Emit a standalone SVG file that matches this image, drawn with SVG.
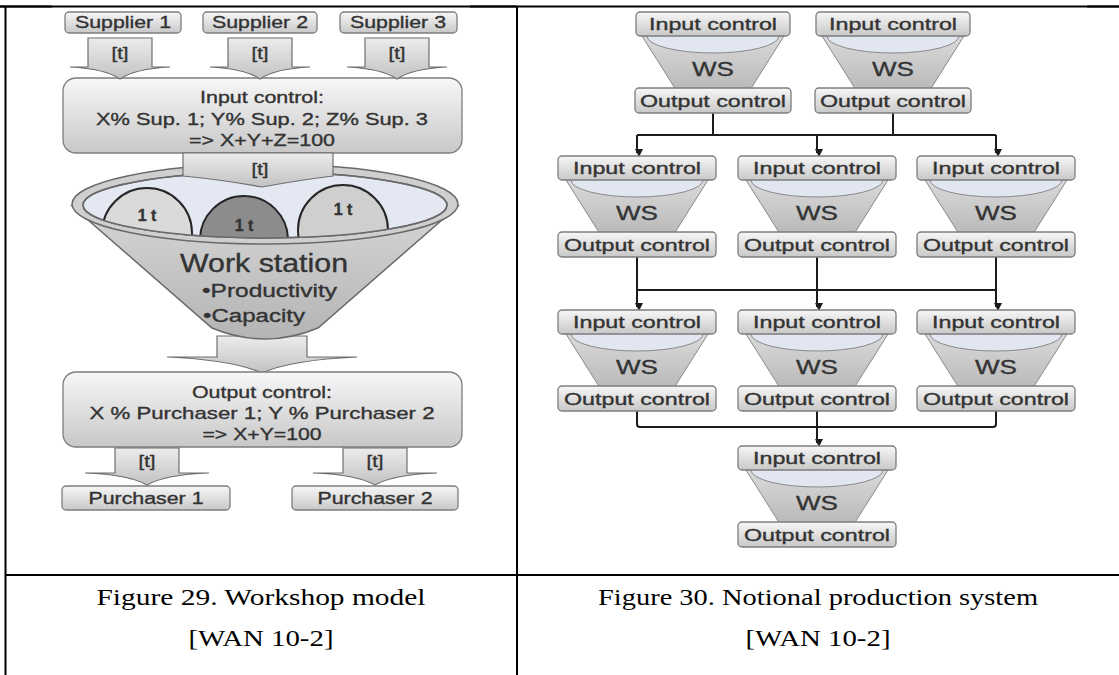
<svg xmlns="http://www.w3.org/2000/svg" width="1119" height="675" viewBox="0 0 1119 675">
<style>
  .tbl{stroke:#000;stroke-width:2;fill:none}
  .box{fill:url(#boxG);stroke:#7d7d7d;stroke-width:1.3}
  .arr{fill:url(#arrG);stroke:#6e6e6e;stroke-width:1.2}
  .fun{fill:url(#funG);stroke:#8a8a8a;stroke-width:1}
  .rim{fill:#e1e6f1;stroke:#8a8a8a;stroke-width:1}
  .t{font-family:"Liberation Sans",Arial,sans-serif;fill:#333;stroke:#333;stroke-width:0.35;text-anchor:middle}
  .lbl{font-family:"Liberation Sans",Arial,sans-serif;font-size:17px;fill:#333;stroke:#333;stroke-width:0.35;text-anchor:middle}
  .ws{font-family:"Liberation Sans",Arial,sans-serif;font-size:20px;fill:#333;stroke:#333;stroke-width:0.35;text-anchor:middle}
  .bul{font-family:"Liberation Sans",Arial,sans-serif;font-size:18px;fill:#333;stroke:#333;stroke-width:0.35}
  .cap{font-family:"Liberation Serif","Times New Roman",serif;font-size:24px;fill:#000;text-anchor:middle}
  .con{stroke:#1c1c1c;stroke-width:2;fill:none}
  .ball{stroke:#262626;stroke-width:2}
</style>
<defs>
  <linearGradient id="boxG" x1="0" y1="0" x2="0" y2="1">
    <stop offset="0" stop-color="#f7f7f7"/><stop offset="1" stop-color="#c8c8c8"/>
  </linearGradient>
  <linearGradient id="arrG" x1="0" y1="0" x2="0" y2="1">
    <stop offset="0" stop-color="#ececec"/><stop offset="1" stop-color="#c2c2c2"/>
  </linearGradient>
  <linearGradient id="funG" x1="0" y1="0" x2="0" y2="1">
    <stop offset="0" stop-color="#dadada"/><stop offset="1" stop-color="#b9b9b9"/>
  </linearGradient>
  <linearGradient id="bigFunG" x1="0" y1="0" x2="0" y2="1">
    <stop offset="0" stop-color="#d6d6d6"/><stop offset="1" stop-color="#b4b4b4"/>
  </linearGradient>
  <clipPath id="rimClip"><ellipse cx="265" cy="205" rx="182" ry="33"/></clipPath>
  <path id="supArr" d="M-32,38 H32 V67 H50 C30,68 10,72 0,79 C-10,72 -30,68 -50,67 H-32 Z"/>
  <path id="purArr" d="M-32,448 H32 V473 H62 C35,474 12,478 0,485 C-12,478 -35,474 -62,473 H-32 Z"/>
  <marker id="ah" markerWidth="8" markerHeight="8" refX="4" refY="6" orient="auto-start-reverse" markerUnits="userSpaceOnUse" viewBox="0 0 8 8">
    <path d="M0,0 L8,0 L4,8 Z" fill="#1c1c1c" transform="rotate(-90 4 4)"/>
  </marker>
</defs>

<!-- table lines -->
<g id="table">
  <line class="tbl" x1="0" y1="6.5" x2="1119" y2="6.5" stroke-width="1.5"/>
  <line class="tbl" x1="0" y1="6.5" x2="52" y2="6.5" stroke-width="3"/>
  <line class="tbl" x1="470" y1="6.5" x2="517" y2="6.5" stroke-width="3"/>
  <line class="tbl" x1="1087" y1="6.5" x2="1119" y2="6.5" stroke-width="3"/>
  <line class="tbl" x1="5.5" y1="6" x2="5.5" y2="675"/>
  <line class="tbl" x1="517" y1="6" x2="517" y2="675"/>
  <line class="tbl" x1="5" y1="575" x2="1119" y2="575"/>
</g>

<!-- LEFT: workshop model -->
<g id="supplier1"><rect class="box" x="65" y="12" width="116" height="21" rx="4"/><text class="t" x="123" y="28" font-size="17" textLength="96" lengthAdjust="spacingAndGlyphs">Supplier 1</text></g>
<g id="supplier2"><rect class="box" x="203" y="12" width="114" height="21" rx="4"/><text class="t" x="260" y="28" font-size="17" textLength="96" lengthAdjust="spacingAndGlyphs">Supplier 2</text></g>
<g id="supplier3"><rect class="box" x="340" y="12" width="117" height="21" rx="4"/><text class="t" x="398" y="28" font-size="17" textLength="96" lengthAdjust="spacingAndGlyphs">Supplier 3</text></g>

<g id="input-control-left">
  <rect class="box" x="63" y="78" width="399" height="75" rx="13"/>
  <text class="t" x="262" y="103" font-size="17" textLength="124" lengthAdjust="spacingAndGlyphs">Input control:</text>
  <text class="t" x="262" y="125" font-size="17" textLength="332" lengthAdjust="spacingAndGlyphs">X% Sup. 1; Y% Sup. 2; Z% Sup. 3</text>
  <text class="t" x="262" y="146" font-size="17" textLength="146" lengthAdjust="spacingAndGlyphs">=&gt; X+Y+Z=100</text>
</g>

<g id="supplier-arrows">
  <use href="#supArr" class="arr" transform="translate(120,0)"/>
  <text class="t" x="120" y="59" font-size="16" textLength="17" lengthAdjust="spacingAndGlyphs">[t]</text>
  <use href="#supArr" class="arr" transform="translate(260,0)"/>
  <text class="t" x="260" y="59" font-size="16" textLength="17" lengthAdjust="spacingAndGlyphs">[t]</text>
  <use href="#supArr" class="arr" transform="translate(397,0)"/>
  <text class="t" x="397" y="59" font-size="16" textLength="17" lengthAdjust="spacingAndGlyphs">[t]</text>
</g>

<g id="work-station">
  <path class="arr" d="M217,336 H307 V357 H357 C312,359 282,364 262,373 C242,364 212,359 167,357 H217 Z"/>
  <path d="M72,206 L212,328 Q265,350 318,328 L458,206 Z" fill="url(#bigFunG)" stroke="#6a6a6a" stroke-width="1.5"/>
  <ellipse cx="265" cy="204" rx="193" ry="40" fill="#cfcfcf" stroke="#6a6a6a" stroke-width="1.5"/>
  <ellipse cx="265" cy="205" rx="182" ry="33" fill="#e3e8f2" stroke="#6a6a6a" stroke-width="1.5"/>
  <g clip-path="url(#rimClip)">
    <circle class="ball" cx="147" cy="233" r="45" fill="#dadada"/>
    <circle class="ball" cx="244" cy="240" r="44" fill="#8c8c8c"/>
    <circle class="ball" cx="343" cy="230" r="45" fill="#cfcfcf"/>
  </g>
  <ellipse cx="265" cy="205" rx="182" ry="33" fill="none" stroke="#6a6a6a" stroke-width="1.5"/>
  <text class="t" x="147" y="221" font-size="16" font-weight="bold" fill="#222">1 t</text>
  <text class="t" x="244" y="231" font-size="16" font-weight="bold" fill="#222">1 t</text>
  <text class="t" x="343" y="215" font-size="16" font-weight="bold" fill="#222">1 t</text>
  <text class="t" x="264" y="272" font-size="26" textLength="168" lengthAdjust="spacingAndGlyphs">Work station</text>
  <text class="bul" x="202" y="297" textLength="135" lengthAdjust="spacingAndGlyphs">•Productivity</text>
  <text class="bul" x="203" y="322" textLength="102" lengthAdjust="spacingAndGlyphs">•Capacity</text>
  <path class="arr" d="M183,153 H333 V176 Q300,180 262,187 Q224,180 183,176 Z"/>
  <text class="t" x="260" y="175" font-size="16" textLength="17" lengthAdjust="spacingAndGlyphs">[t]</text>
</g>

<g id="output-control-left">
  <rect class="box" x="63" y="372" width="399" height="75" rx="13"/>
  <text class="t" x="262" y="398" font-size="17" textLength="140" lengthAdjust="spacingAndGlyphs">Output control:</text>
  <text class="t" x="262" y="419" font-size="17" textLength="345" lengthAdjust="spacingAndGlyphs">X % Purchaser 1; Y % Purchaser 2</text>
  <text class="t" x="262" y="440" font-size="17" textLength="119" lengthAdjust="spacingAndGlyphs">=&gt; X+Y=100</text>
</g>

<g id="purchaser-arrows">
  <use href="#purArr" class="arr" transform="translate(147,0)"/>
  <text class="t" x="147" y="467" font-size="16" textLength="17" lengthAdjust="spacingAndGlyphs">[t]</text>
  <use href="#purArr" class="arr" transform="translate(375,0)"/>
  <text class="t" x="375" y="467" font-size="16" textLength="17" lengthAdjust="spacingAndGlyphs">[t]</text>
</g>
<g id="purchaser1"><rect class="box" x="62" y="486" width="168" height="24" rx="4"/><text class="t" x="146" y="504" font-size="16" textLength="115" lengthAdjust="spacingAndGlyphs">Purchaser 1</text></g>
<g id="purchaser2"><rect class="box" x="292" y="486" width="166" height="24" rx="4"/><text class="t" x="375" y="504" font-size="16" textLength="115" lengthAdjust="spacingAndGlyphs">Purchaser 2</text></g>

<!-- RIGHT: notional production system -->
<g id="connectors">
  <path class="con" d="M713,113 V135 M893,113 V135 M637,135 H996"/>
  <path class="con" d="M637,135 V153" marker-end="url(#ah)"/>
  <path class="con" d="M817,135 V153" marker-end="url(#ah)"/>
  <path class="con" d="M996,135 V153" marker-end="url(#ah)"/>
  <path class="con" d="M637,290 H996"/>
  <path class="con" d="M637,257 V307" marker-end="url(#ah)"/>
  <path class="con" d="M817,257 V307" marker-end="url(#ah)"/>
  <path class="con" d="M996,257 V307" marker-end="url(#ah)"/>
  <path class="con" d="M637,411 V424 Q637,427 640,427 H993 Q996,427 996,424 V411"/>
  <path class="con" d="M817,411 V443" marker-end="url(#ah)"/>
</g>

<g id="ws-1-1" transform="translate(713,12)">
  <path class="fun" d="M-71,24 L-37,78 L37,78 L71,24 Z"/><ellipse class="rim" cx="0" cy="24" rx="66" ry="17"/>
  <rect class="box" x="-77" y="0" width="154" height="24" rx="4"/><text class="lbl" x="0" y="18" textLength="128" lengthAdjust="spacingAndGlyphs">Input control</text>
  <text class="ws" x="0" y="64" textLength="42" lengthAdjust="spacingAndGlyphs">WS</text>
  <rect class="box" x="-78" y="76" width="156" height="25" rx="4"/><text class="lbl" x="0" y="94.5" textLength="146" lengthAdjust="spacingAndGlyphs">Output control</text>
</g>
<g id="ws-1-2" transform="translate(893,12)">
  <path class="fun" d="M-71,24 L-37,78 L37,78 L71,24 Z"/><ellipse class="rim" cx="0" cy="24" rx="66" ry="17"/>
  <rect class="box" x="-77" y="0" width="154" height="24" rx="4"/><text class="lbl" x="0" y="18" textLength="128" lengthAdjust="spacingAndGlyphs">Input control</text>
  <text class="ws" x="0" y="64" textLength="42" lengthAdjust="spacingAndGlyphs">WS</text>
  <rect class="box" x="-78" y="76" width="156" height="25" rx="4"/><text class="lbl" x="0" y="94.5" textLength="146" lengthAdjust="spacingAndGlyphs">Output control</text>
</g>
<g id="ws-2-1" transform="translate(637,156)">
  <path class="fun" d="M-71,24 L-37,78 L37,78 L71,24 Z"/><ellipse class="rim" cx="0" cy="24" rx="66" ry="17"/>
  <rect class="box" x="-79" y="0" width="158" height="24" rx="4"/><text class="lbl" x="0" y="18" textLength="128" lengthAdjust="spacingAndGlyphs">Input control</text>
  <text class="ws" x="0" y="64" textLength="42" lengthAdjust="spacingAndGlyphs">WS</text>
  <rect class="box" x="-79" y="76" width="158" height="25" rx="4"/><text class="lbl" x="0" y="94.5" textLength="146" lengthAdjust="spacingAndGlyphs">Output control</text>
</g>
<g id="ws-2-2" transform="translate(817,156)">
  <path class="fun" d="M-71,24 L-37,78 L37,78 L71,24 Z"/><ellipse class="rim" cx="0" cy="24" rx="66" ry="17"/>
  <rect class="box" x="-79" y="0" width="158" height="24" rx="4"/><text class="lbl" x="0" y="18" textLength="128" lengthAdjust="spacingAndGlyphs">Input control</text>
  <text class="ws" x="0" y="64" textLength="42" lengthAdjust="spacingAndGlyphs">WS</text>
  <rect class="box" x="-79" y="76" width="158" height="25" rx="4"/><text class="lbl" x="0" y="94.5" textLength="146" lengthAdjust="spacingAndGlyphs">Output control</text>
</g>
<g id="ws-2-3" transform="translate(996,156)">
  <path class="fun" d="M-71,24 L-37,78 L37,78 L71,24 Z"/><ellipse class="rim" cx="0" cy="24" rx="66" ry="17"/>
  <rect class="box" x="-79" y="0" width="158" height="24" rx="4"/><text class="lbl" x="0" y="18" textLength="128" lengthAdjust="spacingAndGlyphs">Input control</text>
  <text class="ws" x="0" y="64" textLength="42" lengthAdjust="spacingAndGlyphs">WS</text>
  <rect class="box" x="-79" y="76" width="158" height="25" rx="4"/><text class="lbl" x="0" y="94.5" textLength="146" lengthAdjust="spacingAndGlyphs">Output control</text>
</g>
<g id="ws-3-1" transform="translate(637,310)">
  <path class="fun" d="M-71,24 L-37,78 L37,78 L71,24 Z"/><ellipse class="rim" cx="0" cy="24" rx="66" ry="17"/>
  <rect class="box" x="-79" y="0" width="158" height="24" rx="4"/><text class="lbl" x="0" y="18" textLength="128" lengthAdjust="spacingAndGlyphs">Input control</text>
  <text class="ws" x="0" y="64" textLength="42" lengthAdjust="spacingAndGlyphs">WS</text>
  <rect class="box" x="-79" y="76" width="158" height="25" rx="4"/><text class="lbl" x="0" y="94.5" textLength="146" lengthAdjust="spacingAndGlyphs">Output control</text>
</g>
<g id="ws-3-2" transform="translate(817,310)">
  <path class="fun" d="M-71,24 L-37,78 L37,78 L71,24 Z"/><ellipse class="rim" cx="0" cy="24" rx="66" ry="17"/>
  <rect class="box" x="-79" y="0" width="158" height="24" rx="4"/><text class="lbl" x="0" y="18" textLength="128" lengthAdjust="spacingAndGlyphs">Input control</text>
  <text class="ws" x="0" y="64" textLength="42" lengthAdjust="spacingAndGlyphs">WS</text>
  <rect class="box" x="-79" y="76" width="158" height="25" rx="4"/><text class="lbl" x="0" y="94.5" textLength="146" lengthAdjust="spacingAndGlyphs">Output control</text>
</g>
<g id="ws-3-3" transform="translate(996,310)">
  <path class="fun" d="M-71,24 L-37,78 L37,78 L71,24 Z"/><ellipse class="rim" cx="0" cy="24" rx="66" ry="17"/>
  <rect class="box" x="-79" y="0" width="158" height="24" rx="4"/><text class="lbl" x="0" y="18" textLength="128" lengthAdjust="spacingAndGlyphs">Input control</text>
  <text class="ws" x="0" y="64" textLength="42" lengthAdjust="spacingAndGlyphs">WS</text>
  <rect class="box" x="-79" y="76" width="158" height="25" rx="4"/><text class="lbl" x="0" y="94.5" textLength="146" lengthAdjust="spacingAndGlyphs">Output control</text>
</g>
<g id="ws-4-1" transform="translate(817,446)">
  <path class="fun" d="M-71,24 L-37,78 L37,78 L71,24 Z"/><ellipse class="rim" cx="0" cy="24" rx="66" ry="17"/>
  <rect class="box" x="-79" y="0" width="158" height="24" rx="4"/><text class="lbl" x="0" y="18" textLength="128" lengthAdjust="spacingAndGlyphs">Input control</text>
  <text class="ws" x="0" y="64" textLength="42" lengthAdjust="spacingAndGlyphs">WS</text>
  <rect class="box" x="-79" y="76" width="158" height="25" rx="4"/><text class="lbl" x="0" y="94.5" textLength="146" lengthAdjust="spacingAndGlyphs">Output control</text>
</g>

<g id="captions">
  <text class="cap" x="261" y="605" textLength="329" lengthAdjust="spacingAndGlyphs">Figure 29. Workshop model</text>
  <text class="cap" x="261" y="646" textLength="145" lengthAdjust="spacingAndGlyphs">[WAN 10-2]</text>
  <text class="cap" x="818" y="605" textLength="440" lengthAdjust="spacingAndGlyphs">Figure 30. Notional production system</text>
  <text class="cap" x="818" y="646" textLength="145" lengthAdjust="spacingAndGlyphs">[WAN 10-2]</text>
</g>
</svg>
